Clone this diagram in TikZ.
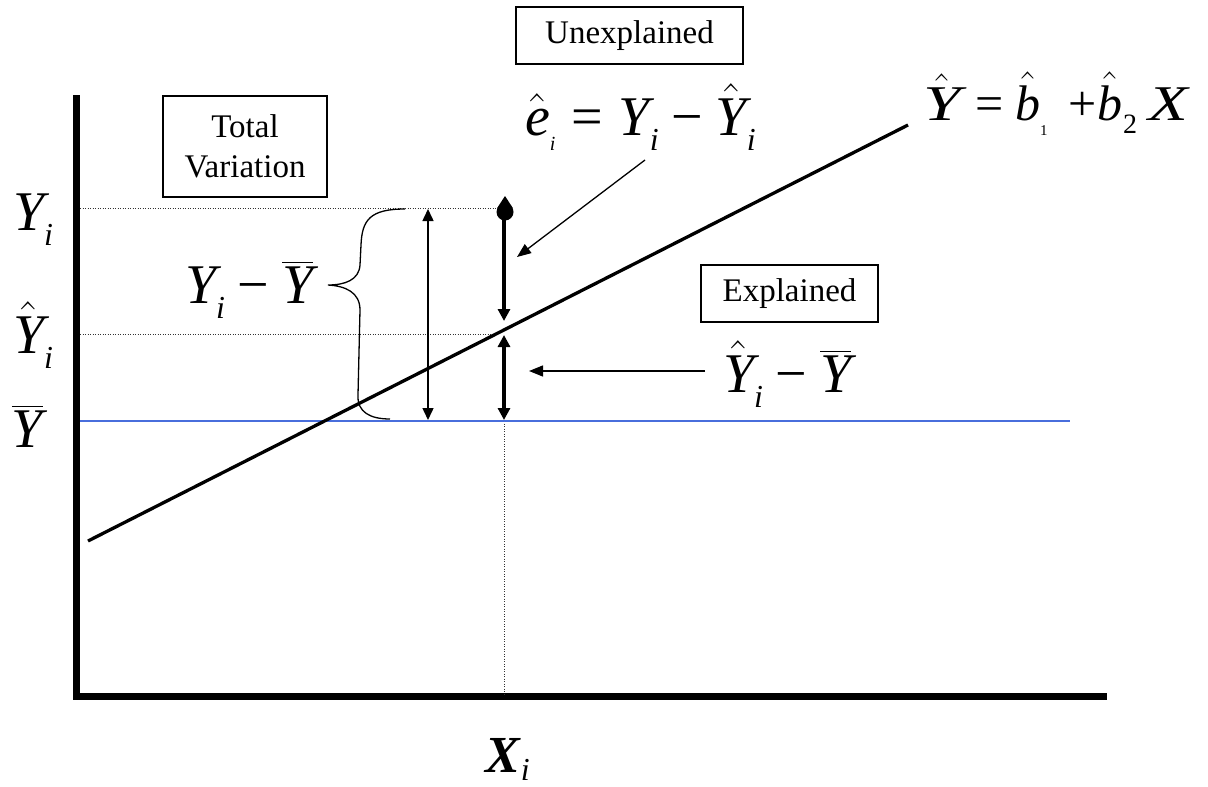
\documentclass[tikz,border=0pt]{standalone}
\usepackage{fix-cm}
\usepackage{amsmath}
\usepackage{graphicx}
\usepackage{fontspec}
\setmainfont{Liberation Serif}
\usetikzlibrary{arrows.meta}
\newcommand\vY{\textit{Y}}
% #1 extra drop, #2 size, #3 text
\newcommand\subsz[3]{_{\text{\raisebox{-#1}{\fontsize{#2}{#2}\selectfont\itshape #3}}}}
\newcommand\eqs{\mathrel{\text{=}}}
\newcommand\mns{\mathbin{\text{−}}}
\definecolor{ybarblue}{RGB}{72,110,220}
\tikzset{
  mathlbl/.style={anchor=base west, inner sep=0pt, outer sep=0pt},
  boxnode/.style={draw, line width=1.3pt, inner sep=0pt, align=center, font=\fontsize{33}{40}\selectfont},
  guide/.style={line width=1pt, dash pattern=on 1pt off 1.5pt, draw=black!80},
  thinarr/.style={line width=1.5pt, {Triangle[length=12pt,width=11pt]}-{Triangle[length=12pt,width=11pt]}},
  thickarr/.style={line width=3.2pt, -{Triangle[length=12pt,width=12pt]}},
  thickdbl/.style={line width=3.2pt, {Triangle[length=12pt,width=12pt]}-{Triangle[length=12pt,width=12pt]}},
  pointer/.style={line width=1.3pt, -{Triangle[length=14pt,width=11pt]}}
}
\begin{document}
\begin{tikzpicture}[x=1pt,y=-1pt]
\useasboundingbox (0,0) rectangle (1208,787);
% coordinates
\coordinate (ytop) at (76,95);
\coordinate (orig) at (76,696.5);
\coordinate (xend) at (1107,696.5);
\coordinate (rl1) at (88,541);
\coordinate (rl2) at (908,125);
\coordinate (g1a) at (80,208);
\coordinate (g1b) at (500,208);
\coordinate (g2a) at (80,334);
\coordinate (g2b) at (497,334);
\coordinate (vga) at (504,421);
\coordinate (vgb) at (504,694);
\coordinate (bl1) at (80,421);
\coordinate (bl2) at (1070,421);
\coordinate (ta) at (428,209);
\coordinate (tb) at (428,420);
\coordinate (dot) at (505,212);
\coordinate (ua) at (504,220);
\coordinate (ub) at (504,321);
\coordinate (ea) at (504,335);
\coordinate (eb) at (504,420);
\coordinate (pa) at (645,160);
\coordinate (pb) at (517,257);
\coordinate (qa) at (705,371);
\coordinate (qb) at (529,371);
% axes
\draw[line width=7pt, line join=miter] (ytop) -- (orig) -- (xend);
% guides
\draw[guide] (g1a) -- (g1b);
\draw[guide] (g2a) -- (g2b);
\draw[guide] (vga) -- (vgb);
\draw[ybarblue, line width=1.3pt] (bl1) -- (bl2);
% regression line
\draw[line width=3.3pt] (rl1) -- (rl2);
% brace
\draw[line width=1.3pt] (405,209) .. controls (370,209) and (362,220) .. (361,245) -- (360,265) .. controls (359,280) and (345,285) .. (328,285) .. controls (345,286) and (360,292) .. (360,310) -- (358,395) .. controls (357,412) and (370,419) .. (390,419);
% arrows
\draw[thinarr] (ta) -- (tb);
\fill (dot) circle (8.5);
\fill (505,196) -- (497.2,208) -- (512.8,208) -- cycle;
\draw[thickarr] (ua) -- (ub);
\draw[thickdbl] (ea) -- (eb);
\draw[pointer] (pa) -- (pb);
\draw[pointer] (qa) -- (qb);
% boxes
\node[boxnode, minimum width=227pt, minimum height=57pt] (unexp) at (629.5,35.5) {Unexplained};
\node[boxnode, minimum width=164pt, minimum height=101pt] (totvar) at (245,146.5) {Total\\Variation};
\node[boxnode, minimum width=177pt, minimum height=57pt] (expl) at (789.5,293.5) {Explained};
% math labels
\node[mathlbl] (lyi) at (13,230) {\fontsize{56}{60}\selectfont$\vY\subsz{7pt}{32}{i}$};
\node[mathlbl] (lyhat) at (13,353) {\fontsize{56}{60}\selectfont$\hat{\vY}\subsz{7pt}{32}{i}$};
\node[mathlbl] (lybar) at (12,447) {\fontsize{56}{60}\selectfont$\overline{\vY}$};
\node[mathlbl] (ltot) at (185,303) {\fontsize{56}{60}\selectfont$\vY\subsz{7pt}{32}{i}\mns\overline{\vY}$};
\node[mathlbl] (lres) at (525,135) {\fontsize{56}{60}\selectfont$\hat{\textit{e}}\subsz{7pt}{20}{i}\eqs\vY\subsz{7pt}{32}{i}\mns\hat{\vY}\subsz{7pt}{32}{i}$};
\node[mathlbl] (lreg) at (923,120) {\fontsize{50}{56}\selectfont%
\makebox[52pt][l]{$\hat{\text{\scalebox{1.35}[1]{\itshape Y}}}$}%
\makebox[40pt][l]{=}%
\makebox[25pt][l]{$\hat{\textit{b}}$}%
\makebox[28pt][l]{\raisebox{-15pt}{\fontsize{15}{15}\selectfont 1}}%
\makebox[29pt][l]{+}%
\makebox[26pt][l]{$\hat{\textit{b}}$}%
\makebox[25pt][l]{\raisebox{-13pt}{\fontsize{28}{28}\selectfont 2}}%
\scalebox{1.3}[1]{\itshape X}};
\node[mathlbl] (lexp) at (723,392) {\fontsize{56}{60}\selectfont$\hat{\vY}\subsz{7pt}{32}{i}\mns\overline{\vY}$};
\node[mathlbl] (lx) at (485,772) {\fontsize{52}{56}\selectfont$\textbf{\textit{X}}\subsz{1pt}{32}{i}$};
\end{tikzpicture}
\end{document}
